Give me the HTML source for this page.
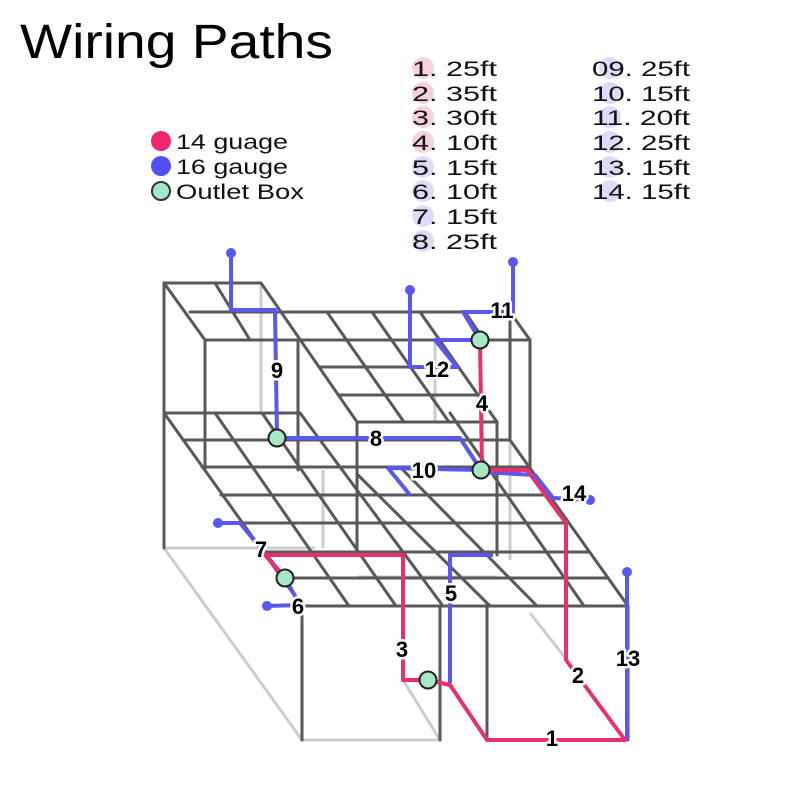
<!DOCTYPE html>
<html><head><meta charset="utf-8"><style>
html,body{margin:0;padding:0;background:#fff;}
svg{display:block;}
text{font-family:"Liberation Sans","Noto Sans CJK JP",sans-serif;}
.lb{font-size:22px;font-weight:bold;fill:#000;stroke:#fff;stroke-width:5px;paint-order:stroke;stroke-linejoin:round;}
</style></head><body>
<svg width="800" height="800" viewBox="0 0 800 800" xmlns="http://www.w3.org/2000/svg">
<rect width="800" height="800" fill="#fff"/>
<text x="20" y="58" font-size="48" fill="#000" textLength="313" lengthAdjust="spacingAndGlyphs">Wiring Paths</text>
<circle cx="161" cy="141" r="10" fill="#ee2470"/>
<circle cx="161" cy="166" r="10" fill="#5050f8"/>
<circle cx="161" cy="191" r="9" fill="#a6e8c6" stroke="#333" stroke-width="2"/>
<g font-size="21" fill="#111" lengthAdjust="spacingAndGlyphs">
<text x="176" y="149" textLength="112" lengthAdjust="spacingAndGlyphs">14 guage</text>
<text x="176" y="174" textLength="112" lengthAdjust="spacingAndGlyphs">16 gauge</text>
<text x="176" y="199" textLength="128" lengthAdjust="spacingAndGlyphs">Outlet Box</text>
</g>
<g>
<circle cx="423" cy="68" r="11" fill="#f7d2de"/>
<circle cx="423" cy="93" r="11" fill="#f7d2de"/>
<circle cx="423" cy="117" r="11" fill="#f7d2de"/>
<circle cx="423" cy="142" r="11" fill="#f7d2de"/>
<circle cx="423" cy="167" r="11" fill="#dcdcfa"/>
<circle cx="423" cy="191" r="11" fill="#dcdcfa"/>
<circle cx="423" cy="216" r="11" fill="#dcdcfa"/>
<circle cx="423" cy="241" r="11" fill="#dcdcfa"/>
<circle cx="610" cy="68" r="11" fill="#dcdcfa"/>
<circle cx="610" cy="93" r="11" fill="#dcdcfa"/>
<circle cx="610" cy="117" r="11" fill="#dcdcfa"/>
<circle cx="610" cy="142" r="11" fill="#dcdcfa"/>
<circle cx="610" cy="167" r="11" fill="#dcdcfa"/>
<circle cx="610" cy="191" r="11" fill="#dcdcfa"/>
</g>
<g font-size="21" fill="#111">
<text x="412" y="76" textLength="85" lengthAdjust="spacingAndGlyphs">1. 25ft</text>
<text x="412" y="101" textLength="85" lengthAdjust="spacingAndGlyphs">2. 35ft</text>
<text x="412" y="125" textLength="85" lengthAdjust="spacingAndGlyphs">3. 30ft</text>
<text x="412" y="150" textLength="85" lengthAdjust="spacingAndGlyphs">4. 10ft</text>
<text x="412" y="175" textLength="85" lengthAdjust="spacingAndGlyphs">5. 15ft</text>
<text x="412" y="199" textLength="85" lengthAdjust="spacingAndGlyphs">6. 10ft</text>
<text x="412" y="224" textLength="85" lengthAdjust="spacingAndGlyphs">7. 15ft</text>
<text x="412" y="249" textLength="85" lengthAdjust="spacingAndGlyphs">8. 25ft</text>
<text x="592" y="76" textLength="98" lengthAdjust="spacingAndGlyphs">09. 25ft</text>
<text x="592" y="101" textLength="98" lengthAdjust="spacingAndGlyphs">10. 15ft</text>
<text x="592" y="125" textLength="98" lengthAdjust="spacingAndGlyphs">11. 20ft</text>
<text x="592" y="150" textLength="98" lengthAdjust="spacingAndGlyphs">12. 25ft</text>
<text x="592" y="175" textLength="98" lengthAdjust="spacingAndGlyphs">13. 15ft</text>
<text x="592" y="199" textLength="98" lengthAdjust="spacingAndGlyphs">14. 15ft</text>
</g>

<g stroke="#cccccc" stroke-width="3" fill="none">
<line x1="261" y1="283" x2="261" y2="413"/>
<line x1="164" y1="548" x2="302" y2="740"/>
<line x1="164" y1="548" x2="315" y2="548"/>
<line x1="302" y1="740" x2="440" y2="740"/>
<line x1="403" y1="680" x2="440" y2="740"/>
<line x1="323" y1="470" x2="323" y2="548"/>
<line x1="510" y1="440" x2="510" y2="560"/>
<line x1="435" y1="340" x2="435" y2="422"/>
<line x1="530" y1="613" x2="567" y2="660"/>
<line x1="357" y1="577" x2="497" y2="577"/>
</g>

<g stroke="#585858" stroke-width="3" fill="none" stroke-linecap="round">
<line x1="164" y1="283" x2="261" y2="283"/>
<line x1="164" y1="283" x2="164" y2="548"/>
<line x1="164" y1="283" x2="205" y2="340"/>
<line x1="215" y1="283" x2="250" y2="340"/>
<line x1="261" y1="283" x2="357" y2="422"/>
<line x1="190" y1="312" x2="513" y2="312"/>
<line x1="205" y1="340" x2="530" y2="340"/>
<line x1="205" y1="340" x2="205" y2="470"/>
<line x1="298" y1="340" x2="298" y2="470"/>
<line x1="320" y1="367" x2="457" y2="367"/>
<line x1="340" y1="395" x2="480" y2="395"/>
<line x1="357" y1="422" x2="497" y2="422"/>
<line x1="327" y1="312" x2="404" y2="422"/>
<line x1="372" y1="312" x2="449" y2="422"/>
<line x1="420" y1="312" x2="497" y2="422"/>
<line x1="465" y1="312" x2="484" y2="340"/>
<line x1="510" y1="312" x2="530" y2="340"/>
<line x1="510" y1="312" x2="510" y2="440"/>
<line x1="530" y1="340" x2="530" y2="467"/>
<line x1="357" y1="422" x2="357" y2="555"/>
<line x1="497" y1="422" x2="497" y2="555"/>
<line x1="164" y1="413" x2="300" y2="413"/>
<line x1="164" y1="413" x2="302" y2="606"/>
<line x1="510" y1="440" x2="628" y2="606"/>
<line x1="183" y1="440" x2="510" y2="440"/>
<line x1="202" y1="467" x2="530" y2="467"/>
<line x1="221" y1="495" x2="549" y2="495"/>
<line x1="241" y1="523" x2="569" y2="523"/>
<line x1="261" y1="552" x2="589" y2="552"/>
<line x1="279" y1="578" x2="607" y2="578"/>
<line x1="302" y1="606" x2="628" y2="606"/>
<line x1="215" y1="413" x2="349" y2="606"/>
<line x1="262" y1="413" x2="396" y2="606"/>
<line x1="300" y1="413" x2="443" y2="606"/>
<line x1="357" y1="474" x2="490" y2="606"/>
<line x1="403" y1="470" x2="537" y2="606"/>
<line x1="450" y1="413" x2="584" y2="606"/>
<line x1="302" y1="606" x2="302" y2="740"/>
<line x1="440" y1="606" x2="440" y2="740"/>
<line x1="487" y1="606" x2="487" y2="740"/>
<line x1="628" y1="606" x2="628" y2="740"/>
</g>

<g fill="none" stroke-width="4" stroke-linejoin="round">
<polyline stroke="#5858f0" points="231,253 231,310 275,310 277,438 460,438 481,470"/>
<polyline stroke="#5858f0" points="410,495 388,468 481,470"/>
<polyline stroke="#5858f0" points="410,290 410,367 457,367 435,340 480,340"/>
<polyline stroke="#5858f0" points="513,262 513,312 463,312 480,340"/>
<polyline stroke="#5858f0" points="482,472 535,475 553,498 590,500"/>
<polyline stroke="#5858f0" points="627,572 627,740"/>
<polyline stroke="#5858f0" points="450,683 450,555 493,555"/>
<polyline stroke="#5858f0" points="218,523 240,523 285,578 300,605 267,606"/>
<polyline stroke="#e8306e" points="480,340 482,470 527,470 566,523 566,660 625,740 487,740 450,685 428,680"/>
<polyline stroke="#e8306e" points="428,680 403,680 403,555 265,555 285,578"/>
</g>
<g fill="#5858f0">
<circle cx="231" cy="253" r="5"/><circle cx="410" cy="290" r="5"/><circle cx="513" cy="262" r="5"/>
<circle cx="590" cy="500" r="5"/><circle cx="627" cy="572" r="5"/><circle cx="218" cy="523" r="5"/><circle cx="267" cy="606" r="5"/>
</g>
<g fill="#a6e8c6" stroke="#222" stroke-width="2">
<circle cx="277" cy="438" r="8.5"/><circle cx="480" cy="340" r="8.5"/><circle cx="481" cy="470" r="8.5"/>
<circle cx="285" cy="578" r="8.5"/><circle cx="428" cy="680" r="8.5"/>
</g>

<g class="lb" text-anchor="middle">
<text x="502" y="318">11</text>
<text x="437" y="377">12</text>
<text x="482" y="411">4</text>
<text x="277" y="378">9</text>
<text x="376" y="446">8</text>
<text x="424" y="478">10</text>
<text x="574" y="501">14</text>
<text x="261" y="557">7</text>
<text x="298" y="614">6</text>
<text x="451" y="601">5</text>
<text x="402" y="657">3</text>
<text x="628" y="666">13</text>
<text x="578" y="683">2</text>
<text x="552" y="746">1</text>
</g>
</svg>
</body></html>
